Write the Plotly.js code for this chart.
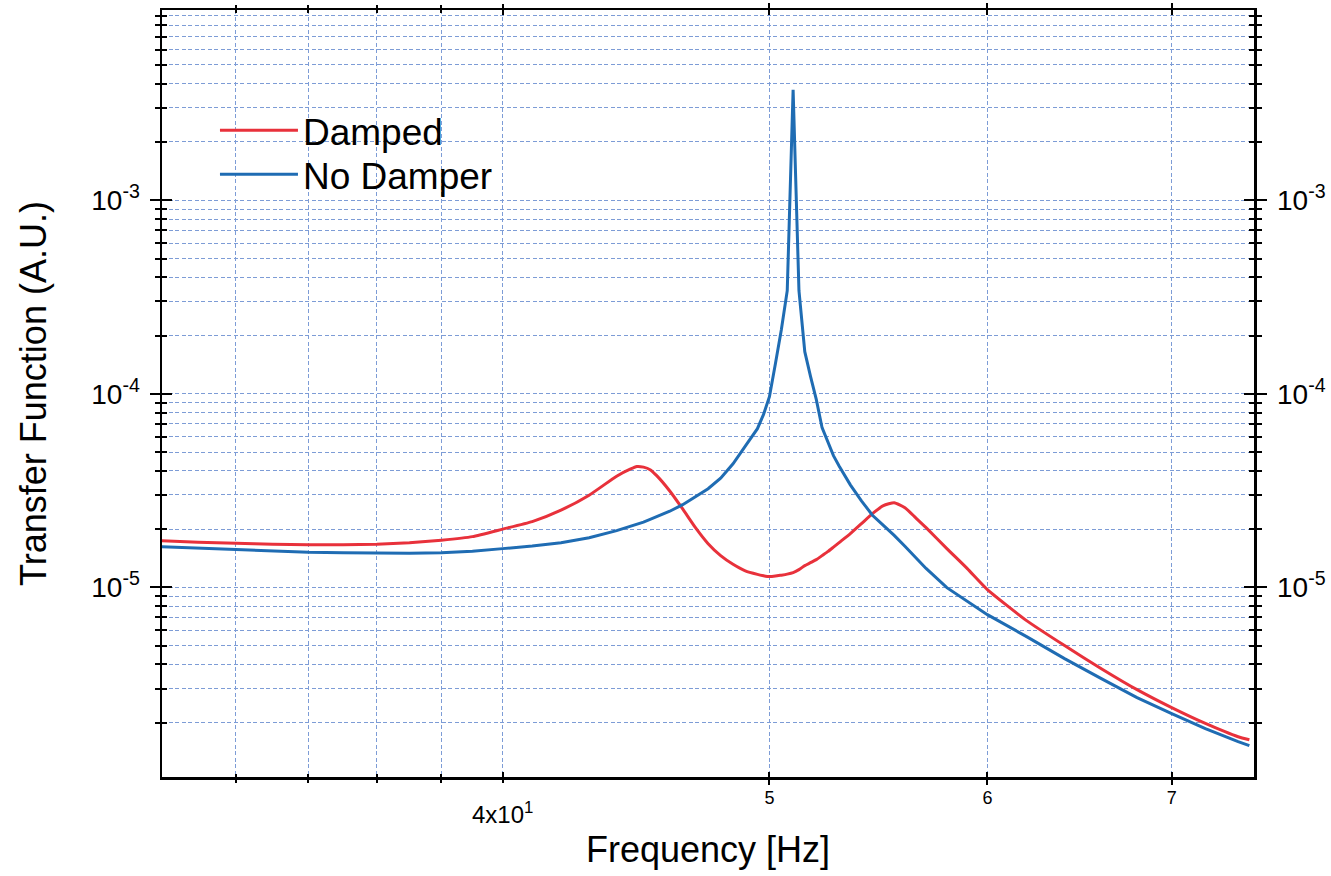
<!DOCTYPE html>
<html>
<head>
<meta charset="utf-8">
<script src="https://cdn.plot.ly/plotly-3.0.1.min.js"></script>
<style>html,body{margin:0;padding:0;background:#fff}#chart{width:1331px;height:876px}</style>
</head>
<body>
<div id="chart"></div>
<script>
// Frequency grid (Hz)
const frequency = [30,31,32,33,34,35,36,37,38,39,40,41,42,43,44,44.5,44.75,45,45.25,45.5,46,46.5,47,47.5,48,48.5,49,49.5,49.75,50,50.25,50.5,50.75,51,51.25,51.5,51.75,52,52.25,52.5,52.75,53,53.5,54,54.5,55,55.5,56,56.5,57,58,59,60,62,64,66,68,70,72,74,74.7];

// Damped transfer function (A.U.)
const damped = [1.743e-5,1.712e-5,1.692e-5,1.672e-5,1.662e-5,1.662e-5,1.672e-5,1.702e-5,1.753e-5,1.828e-5,1.998e-5,2.185e-5,2.505e-5,2.993e-5,3.753e-5,4.079e-5,4.212e-5,4.178e-5,4.055e-5,3.776e-5,3.147e-5,2.541e-5,2.033e-5,1.680e-5,1.458e-5,1.315e-5,1.217e-5,1.167e-5,1.149e-5,1.136e-5,1.143e-5,1.156e-5,1.170e-5,1.191e-5,1.234e-5,1.295e-5,1.341e-5,1.390e-5,1.458e-5,1.529e-5,1.613e-5,1.702e-5,1.894e-5,2.133e-5,2.403e-5,2.642e-5,2.738e-5,2.580e-5,2.291e-5,2.034e-5,1.585e-5,1.249e-5,9.73e-6,6.73e-6,5.00e-6,3.80e-6,2.96e-6,2.39e-6,1.98e-6,1.69e-6,1.63e-6];

// No damper transfer function (A.U.)
const noDamper = [1.623e-5,1.594e-5,1.566e-5,1.538e-5,1.520e-5,1.511e-5,1.502e-5,1.502e-5,1.511e-5,1.538e-5,1.585e-5,1.633e-5,1.698e-5,1.804e-5,1.963e-5,2.058e-5,2.108e-5,2.174e-5,2.243e-5,2.315e-5,2.472e-5,2.674e-5,2.931e-5,3.231e-5,3.665e-5,4.350e-5,5.369e-5,6.604e-5,7.799e-5,9.661e-5,1.430e-4,2.144e-4,3.409e-4,3.722e-3,3.409e-4,1.650e-4,1.226e-4,9.322e-5,6.682e-5,5.623e-5,4.789e-5,4.232e-5,3.384e-5,2.798e-5,2.357e-5,2.090e-5,1.856e-5,1.629e-5,1.427e-5,1.252e-5,9.964e-6,8.477e-6,7.227e-6,5.563e-6,4.282e-6,3.376e-6,2.694e-6,2.227e-6,1.863e-6,1.596e-6,1.522e-6];

// Axis ticks and labels
const xMajorTicks = [50,60,70];
const xMajorLabels = ['5','6','7'];
const xAllMajorTicks = [40,50,60,70];
const xDecadeTicks = [40];
const xDecadeLabels = ['4x10<sup>1</sup>'];
const xMinorTicks = [32,34,36,38];
const yMajorTicks = [1e-5,1e-4,1e-3];
const yMajorLabels = ['10<sup>-5</sup>','10<sup>-4</sup>','10<sup>-3</sup>'];
const yMinorTicks = [2e-6,3e-6,4e-6,5e-6,6e-6,7e-6,8e-6,9e-6,2e-5,3e-5,4e-5,5e-5,6e-5,7e-5,8e-5,9e-5,2e-4,3e-4,4e-4,5e-4,6e-4,7e-4,8e-4,9e-4,2e-3,3e-3,4e-3,5e-3,6e-3,7e-3,8e-3,9e-3];
const seriesNames = ['Damped','No Damper'];

const FONT = 'Liberation Sans, Arial, Helvetica, sans-serif';
const GRID = '#7d9cd6';
const DASH = '4px,2.5px';
const XR = [1.4783, 1.8750];
const YR = [-5.98, -2.017];

const traces = [
  {x: frequency, y: damped, name: seriesNames[0], type: 'scatter', mode: 'lines',
   line: {color: '#e8313b', width: 3, shape: 'spline', smoothing: 0.5}, xaxis: 'x', yaxis: 'y', legend: 'legend'},
  {x: frequency, y: noDamper, name: seriesNames[1], type: 'scatter', mode: 'lines',
   line: {color: '#1f6cb3', width: 3}, xaxis: 'x', yaxis: 'y', legend: 'legend2'},
  {x: [], y: [], xaxis: 'x2', yaxis: 'y2', showlegend: false, hoverinfo: 'skip', mode: 'lines'},
  {x: [], y: [], xaxis: 'x3', yaxis: 'y3', showlegend: false, hoverinfo: 'skip', mode: 'lines'}
];

const baseX = {type: 'log', range: XR, autorange: false, fixedrange: true, zeroline: false};
const baseY = {type: 'log', range: YR, autorange: false, fixedrange: true, zeroline: false};
const legendBase = {xanchor: 'left', yanchor: 'top', bgcolor: 'rgba(0,0,0,0)', borderwidth: 0,
                    font: {family: FONT, size: 37, color: '#000'}, itemwidth: 78};

const layout = {
  width: 1331, height: 876,
  margin: {l: 162, r: 77, t: 10, b: 99, pad: 0},
  paper_bgcolor: '#ffffff', plot_bgcolor: '#ffffff',
  font: {family: FONT, color: '#000000'},
  showlegend: true,
  legend: Object.assign({}, legendBase, {x: 0.0485, y: 0.8830}),
  legend2: Object.assign({}, legendBase, {x: 0.0485, y: 0.8256}),
  shapes: [{type: 'rect', xref: 'paper', yref: 'paper', x0: 0.0467, x1: 0.3068, y0: 0.7549, y1: 0.8670,
            fillcolor: '#ffffff', line: {width: 0}, layer: 'between'}],
  xaxis: Object.assign({}, baseX, {
    anchor: 'y', side: 'bottom',
    tickmode: 'array', tickvals: xMajorTicks, ticktext: xMajorLabels,
    ticks: 'outside', ticklen: 5, tickwidth: 2, tickcolor: '#000',
    tickfont: {family: FONT, size: 18, color: '#000'}, ticklabelstandoff: -2,
    showline: true, linecolor: '#000', linewidth: 2.5, mirror: 'allticks',
    showgrid: true, gridcolor: GRID, griddash: DASH, gridwidth: 1,
    minor: {tickmode: 'array', tickvals: xMinorTicks, ticks: 'outside', ticklen: 3, tickwidth: 2,
            tickcolor: '#000', showgrid: true, gridcolor: GRID, griddash: DASH, gridwidth: 1},
    title: {text: 'Frequency [Hz]', font: {family: FONT, size: 36, color: '#000'}, standoff: 30}
  }),
  yaxis: Object.assign({}, baseY, {
    anchor: 'x', side: 'left',
    tickmode: 'array', tickvals: yMajorTicks, ticktext: yMajorLabels,
    ticks: 'outside', ticklen: 10, tickwidth: 2, tickcolor: '#000',
    tickfont: {family: FONT, size: 28, color: '#000'}, ticklabelstandoff: 4,
    showline: true, linecolor: '#000', linewidth: 2.5, mirror: 'allticks',
    showgrid: true, gridcolor: GRID, griddash: DASH, gridwidth: 1,
    minor: {tickmode: 'array', tickvals: yMinorTicks, ticks: 'outside', ticklen: 5, tickwidth: 2,
            tickcolor: '#000', showgrid: true, gridcolor: GRID, griddash: DASH, gridwidth: 1},
    title: {text: 'Transfer Function (A.U.)', font: {family: FONT, size: 36, color: '#000'}, standoff: 34}
  }),
  xaxis2: Object.assign({}, baseX, {
    overlaying: 'x', anchor: 'y2', side: 'bottom',
    tickmode: 'array', tickvals: xDecadeTicks, ticktext: xDecadeLabels,
    ticks: 'outside', ticklen: 5, tickwidth: 2, tickcolor: '#000', mirror: 'allticks',
    showline: false, showgrid: true, gridcolor: GRID, griddash: DASH, gridwidth: 1,
    tickfont: {family: FONT, size: 24, color: '#000'}, ticklabelstandoff: 11
  }),
  yaxis2: Object.assign({}, baseY, {
    overlaying: 'y', anchor: 'x2', side: 'right',
    tickmode: 'array', tickvals: yMajorTicks, ticktext: yMajorLabels,
    ticks: '', showline: false, showgrid: false,
    tickfont: {family: FONT, size: 28, color: '#000'}, ticklabelstandoff: 22
  }),
  xaxis3: Object.assign({}, baseX, {
    overlaying: 'x', anchor: 'y3', side: 'bottom',
    tickmode: 'array', tickvals: xAllMajorTicks, showticklabels: false,
    ticks: 'inside', ticklen: 5, tickwidth: 2, tickcolor: '#000',
    showline: true, linecolor: '#000', linewidth: 2.5, mirror: 'allticks', showgrid: false,
    minor: {tickmode: 'array', tickvals: xMinorTicks, ticks: 'inside', ticklen: 3, tickwidth: 2,
            tickcolor: '#000', showgrid: false}
  }),
  yaxis3: Object.assign({}, baseY, {
    overlaying: 'y', anchor: 'x3', side: 'left',
    tickmode: 'array', tickvals: yMajorTicks, showticklabels: false,
    ticks: 'inside', ticklen: 10, tickwidth: 2, tickcolor: '#000',
    showline: true, linecolor: '#000', linewidth: 2.5, mirror: 'allticks', showgrid: false,
    minor: {tickmode: 'array', tickvals: yMinorTicks, ticks: 'inside', ticklen: 5, tickwidth: 2,
            tickcolor: '#000', showgrid: false}
  })
};

Plotly.newPlot('chart', traces, layout, {displayModeBar: false, staticPlot: true});
</script>
</body>
</html>
